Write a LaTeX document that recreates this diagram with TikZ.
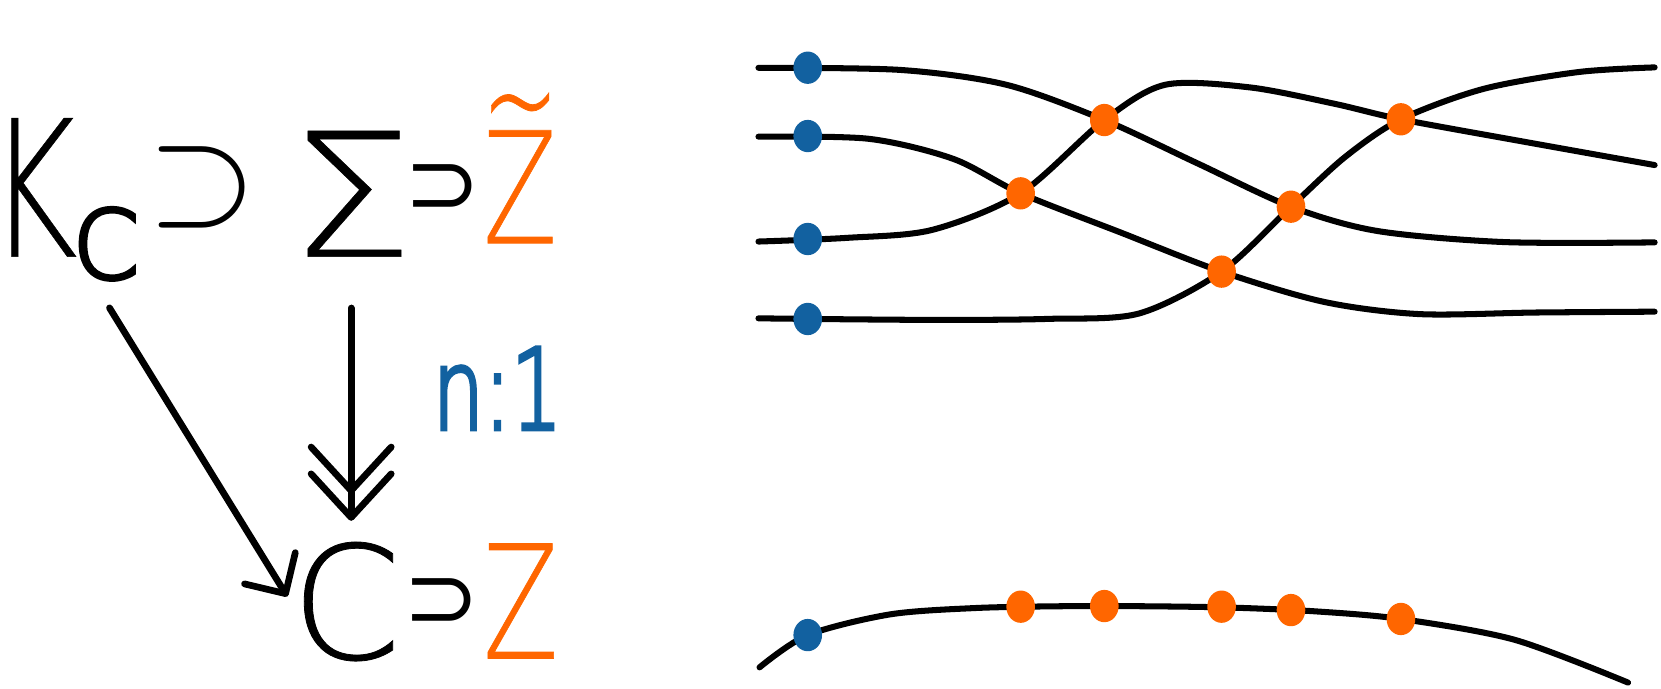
\documentclass[tikz,border=0pt]{standalone}
\usepackage{fontspec}
\usepackage{graphicx}
\usetikzlibrary{arrows.meta,shapes.geometric}
\IfFontExistsTF{DejaVu Sans ExtraLight}{\newfontfamily\handfont{DejaVu Sans ExtraLight}}{\newfontfamily\handfont{DejaVu Sans}}
\newfontfamily\supfont{DejaVu Sans}
\definecolor{zorange}{HTML}{FF6600}
\definecolor{nblue}{HTML}{1261A0}
\tikzset{
	glyph/.style 2 args={inner sep=0pt, anchor=base, font=\handfont\addfontfeature{FakeBold=#2}\fontsize{#1}{#1}\selectfont},
	sup/.style={inner sep=0pt, font=\supfont\fontsize{#1}{#1}\selectfont},
	strand/.style={line width=1.62pt, line cap=round, line join=round},
	bdot/.style={ellipse, fill=nblue, minimum width=.27cm, minimum height=.305cm, inner sep=0pt},
	odot/.style={bdot, fill=zorange},
	mapsto/.style={line width=1.8pt, line cap=round, -{Straight Barb[length=8pt,width=16pt,round]}},
	onto/.style={line width=1.8pt, line cap=round, -{Straight Barb[length=11.7pt,width=21.5pt,round,sep=-6.3pt] Straight Barb[length=11.7pt,width=21.5pt,round,sep=-6.3pt]}}
}
\begin{document}
\begin{tikzpicture}[x=.01cm, y=-.01cm]
	\useasboundingbox (0,0) rectangle (1568,650);
	\node[glyph={51}{.3}] (K) at (31,242.3) {\scalebox{.72}[1]{K}};
	\node[glyph={25.6}{4}] (Kc) at (100,263) {C};
	\node[inner sep=0pt] (s1) at (190.7,177) {\scalebox{3.77}{$\supset$}};
	\node[glyph={46.3}{.3}] (Sig) at (331.5,242.3) {\scalebox{1.15}[1]{Σ}};
	\node[sup=24.5] (s2) at (417.5,179.2) {⊃};
	\node[glyph={41.6}{.5}, text=zorange] (Zt) at (491,229.6) {\scalebox{.7}[1]{\rlap{\makebox[\fontcharwd\font`Z]{\raisebox{.59em}{\scalebox{.85}[1]{\textasciitilde}}}}Z}};
	\node[glyph={42.3}{.5}] (C) at (326.8,622) {C};
	\node[sup=24.5] (s3) at (417,569.5) {⊃};
	\node[glyph={42.3}{.5}, text=zorange] (Z) at (491.6,621.5) {\scalebox{.7}[1]{Z}};
	\node[glyph={30}{4}, text=nblue] (n1) at (469.7,405) {\scalebox{.72}[1]{n:1}};
	\draw[mapsto, shorten <=.559cm, shorten >=.056cm] (K.south east) -- (C.west);
	\draw[onto, shorten <=.477cm, shorten >=.414cm] (Sig.south) -- (Sig.south |- C.north);
	\draw[strand] plot[smooth] coordinates {(716,64) (850,66) (950,80) (1042.5,113.3) (1130,154) (1218.7,195.1) (1300,218) (1420,228.5) (1562,228.8)};
	\draw[strand] plot[smooth] coordinates {(716,129) (820,131) (900,150) (963.5,182.5) (1058,219.5) (1153.2,256.4) (1250,285) (1340,296.5) (1450,295) (1562,294.2)};
	\draw[strand] plot[smooth] coordinates {(716,228) (800,224.5) (880,217) (963.5,182.5) (1042.5,113.3) (1100,80) (1180,82.5) (1260,98) (1322.5,112.6) (1440,134) (1562,155.8)};
	\draw[strand] plot[smooth] coordinates {(716,300.5) (810,301.5) (900,302) (990,301) (1075,296) (1153.2,256.4) (1218.7,195.1) (1270,148) (1322.5,112.6) (1400,84) (1490,68) (1562,63.6)};
	\draw[strand] plot[smooth] coordinates {(717,630) (762.5,599.5) (840,580) (920,574) (1000,572.3) (1080,572.3) (1160,573.5) (1240,577) (1322.5,584.3) (1430,604) (1537,644.4)};
	\node[bdot] (b1) at (762.5,63.9) {};
	\node[bdot] (b2) at (762.5,128.4) {};
	\node[bdot] (b3) at (762.5,225.6) {};
	\node[bdot] (b4) at (762.5,301.1) {};
	\node[bdot] (b5) at (762.5,599.5) {};
	\node[odot] (x1) at (963.5,182.5) {};
	\node[odot] (x2) at (1042.5,113.3) {};
	\node[odot] (x3) at (1153.2,256.4) {};
	\node[odot] (x4) at (1218.7,195.1) {};
	\node[odot] (x5) at (1322.5,112.6) {};
	\node[odot] (z1) at (963.5,572.7) {};
	\node[odot] (z2) at (1042.5,572.1) {};
	\node[odot] (z3) at (1153.2,572.7) {};
	\node[odot] (z4) at (1218.7,575.9) {};
	\node[odot] (z5) at (1322.5,584.3) {};
\end{tikzpicture}
\end{document}
